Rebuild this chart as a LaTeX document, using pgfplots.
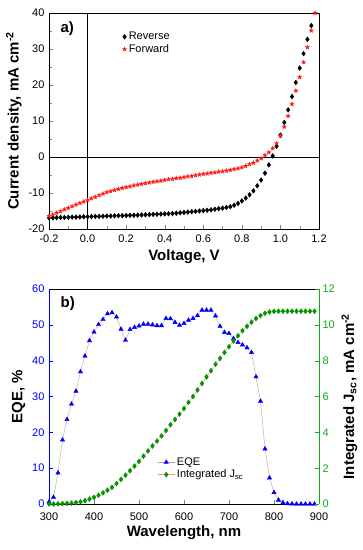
\documentclass[border=0pt]{standalone}
\usepackage{fontspec}
\setmainfont{Liberation Sans}
\usepackage{pgfplots}
\pgfplotsset{compat=1.18}
\definecolor{eqeblue}{RGB}{0,0,255}
\definecolor{jgreen}{RGB}{0,150,0}
\definecolor{axgreen}{RGB}{20,170,20}
\definecolor{fred}{RGB}{255,30,30}
\pgfdeclareplotmark{fstar}{%
  \pgfpathmoveto{\pgfpointpolar{90}{\pgfplotmarksize}}%
  \pgfpathlineto{\pgfpointpolar{126}{0.45\pgfplotmarksize}}%
  \pgfpathlineto{\pgfpointpolar{162}{\pgfplotmarksize}}%
  \pgfpathlineto{\pgfpointpolar{198}{0.45\pgfplotmarksize}}%
  \pgfpathlineto{\pgfpointpolar{234}{\pgfplotmarksize}}%
  \pgfpathlineto{\pgfpointpolar{270}{0.45\pgfplotmarksize}}%
  \pgfpathlineto{\pgfpointpolar{306}{\pgfplotmarksize}}%
  \pgfpathlineto{\pgfpointpolar{342}{0.45\pgfplotmarksize}}%
  \pgfpathlineto{\pgfpointpolar{18}{\pgfplotmarksize}}%
  \pgfpathlineto{\pgfpointpolar{54}{0.45\pgfplotmarksize}}%
  \pgfpathclose
  \pgfusepathqfillstroke}
\newcommand{\lblfont}{\bfseries\fontsize{15}{17}\selectfont}
\pgfplotsset{
  mystyle/.style={
    scale only axis, width=270pt, anchor=south west,
    tick align=inside,
    /pgf/number format/assume math mode=true,
    ticklabel style={font=\fontsize{11}{13}\selectfont},
    xticklabel style={yshift=-2pt},
    yticklabel style={xshift=-1pt},
    xlabel style={font=\lblfont},
    ylabel style={font=\lblfont},
    legend cell align=left,
  }
}
\begin{document}
\begin{tikzpicture}[x=1pt,y=1pt]
\path (0,0) rectangle (363,550);
% ---------------- (a) ----------------
\begin{axis}[mystyle, at={(49pt,321pt)}, height=216pt,
  xmin=-0.2, xmax=1.2, ymin=-20, ymax=40,
  xtick={-0.2,0,0.2,0.4,0.6,0.8,1.0,1.2}, minor x tick num=1,
  ytick={-20,-10,0,10,20,30,40}, minor y tick num=1,
  tick pos=left,
  xticklabel style={/pgf/number format/.cd, fixed, fixed zerofill, precision=1},
  xlabel={Voltage, V},
  ylabel={Current density, mA cm\textsuperscript{-2}},
  legend style={draw=none, fill=none, at={(0.26,0.93)}, anchor=north west,
    font=\fontsize{11}{13}\selectfont, row sep=-1pt},
]
\addplot[black, thin, forget plot] coordinates {(0,-20) (0,40)};
\addplot[black, thin, forget plot] coordinates {(-0.2,0) (1.2,0)};
\addplot[only marks, mark=diamond*, mark size=2.4pt, black] table[row sep=\\] {
x y\\
-0.20 -16.9\\ -0.18 -16.9\\ -0.16 -16.85\\ -0.14 -16.8\\ -0.12 -16.8\\
-0.10 -16.75\\ -0.08 -16.7\\ -0.06 -16.7\\ -0.04 -16.65\\ -0.02 -16.6\\
0.00 -16.6\\ 0.02 -16.55\\ 0.04 -16.5\\ 0.06 -16.5\\ 0.08 -16.45\\
0.10 -16.4\\ 0.12 -16.4\\ 0.14 -16.35\\ 0.16 -16.3\\ 0.18 -16.3\\
0.20 -16.25\\ 0.22 -16.2\\ 0.24 -16.2\\ 0.26 -16.15\\ 0.28 -16.1\\
0.30 -16.05\\ 0.32 -16.0\\ 0.34 -15.95\\ 0.36 -15.9\\ 0.38 -15.85\\
0.40 -15.8\\ 0.42 -15.75\\ 0.44 -15.7\\ 0.46 -15.6\\ 0.48 -15.5\\
0.50 -15.4\\ 0.52 -15.3\\ 0.54 -15.2\\ 0.56 -15.1\\ 0.58 -15.0\\
0.60 -14.9\\ 0.62 -14.8\\ 0.64 -14.65\\ 0.66 -14.5\\ 0.68 -14.35\\
0.70 -14.2\\ 0.72 -14.0\\ 0.74 -13.8\\ 0.76 -13.4\\ 0.78 -12.9\\
0.80 -12.2\\ 0.82 -11.4\\ 0.84 -10.5\\ 0.86 -9.4\\ 0.88 -8.0\\
0.90 -6.4\\ 0.92 -4.5\\ 0.94 -2.2\\ 0.96 0.3\\ 0.98 3.0\\
1.00 6.1\\ 1.02 9.6\\ 1.04 13.1\\ 1.06 16.8\\ 1.08 20.7\\
1.10 24.7\\ 1.12 28.7\\ 1.14 32.7\\ 1.16 36.5\\
};
\addlegendentry{Reverse}
\addplot[only marks, mark=fstar, mark size=2.3pt, fred, mark options={fill=fred, draw=fred, line width=0.2pt}] table[row sep=\\] {
x y\\
-0.20 -16.4\\ -0.18 -15.95\\ -0.16 -15.5\\ -0.14 -15.05\\ -0.12 -14.6\\
-0.10 -14.15\\ -0.08 -13.7\\ -0.06 -13.25\\ -0.04 -12.8\\ -0.02 -12.4\\
0.00 -12.0\\ 0.02 -11.5\\ 0.04 -11.1\\ 0.06 -10.6\\ 0.08 -10.2\\
0.10 -9.8\\ 0.12 -9.5\\ 0.14 -9.2\\ 0.16 -8.9\\ 0.18 -8.6\\
0.20 -8.4\\ 0.22 -8.2\\ 0.24 -7.9\\ 0.26 -7.7\\ 0.28 -7.5\\
0.30 -7.3\\ 0.32 -7.1\\ 0.34 -6.9\\ 0.36 -6.8\\ 0.38 -6.6\\
0.40 -6.4\\ 0.42 -6.2\\ 0.44 -6.1\\ 0.46 -5.9\\ 0.48 -5.8\\
0.50 -5.6\\ 0.52 -5.4\\ 0.54 -5.3\\ 0.56 -5.1\\ 0.58 -4.9\\
0.60 -4.7\\ 0.62 -4.6\\ 0.64 -4.4\\ 0.66 -4.3\\ 0.68 -4.1\\
0.70 -4.0\\ 0.72 -3.8\\ 0.74 -3.6\\ 0.76 -3.4\\ 0.78 -3.2\\
0.80 -2.9\\ 0.82 -2.5\\ 0.84 -2.0\\ 0.86 -1.6\\ 0.88 -1.0\\
0.90 -0.4\\ 0.92 0.5\\ 0.94 1.3\\ 0.96 2.4\\ 0.98 3.8\\
1.00 5.9\\ 1.02 8.4\\ 1.04 11.4\\ 1.06 14.7\\ 1.08 18.4\\
1.10 22.2\\ 1.12 26.3\\ 1.14 30.5\\ 1.16 35.1\\ 1.18 40.0\\
};
\addlegendentry{Forward}
\node[anchor=west, font=\lblfont] at (rel axis cs:0.03,0.93) {a)};
\end{axis}
% ---------------- (b) ----------------
\begin{axis}[mystyle, at={(49pt,46pt)}, height=215pt,
  xmin=300, xmax=900, ymin=0, ymax=60,
  xtick={300,400,...,900}, ytick={0,10,...,60},
  axis x line=box, axis y line*=left,
  xtick pos=left, tick align=inside,
  y axis line style={eqeblue},
  ytick style={eqeblue},
  yticklabel style={eqeblue},
  xticklabel style={yshift=-3pt},
  xlabel={Wavelength, nm},
  ylabel={EQE, \%},
  xlabel style={font=\lblfont, yshift=2pt},
  ylabel style={font=\lblfont},
]
\addplot[gray!70, thin, mark=triangle*, mark size=2.5pt, mark options={eqeblue, draw=eqeblue}] table[row sep=\\] {
x y\\
300 0.6\\ 310 1.9\\ 320 8.7\\ 330 17.9\\ 340 23.6\\ 350 27.9\\ 360 31.5\\ 370 36.9\\
380 41.3\\ 390 45.6\\ 400 48.0\\ 410 50.1\\ 420 51.5\\ 430 53.1\\ 440 53.4\\ 450 52.2\\
460 48.8\\ 470 45.7\\ 480 48.7\\ 490 49.3\\ 500 49.7\\ 510 50.2\\ 520 50.2\\ 530 50.0\\
540 49.8\\ 550 49.8\\ 560 51.8\\ 570 51.7\\ 580 50.7\\ 590 49.9\\ 600 50.4\\ 610 51.3\\
620 51.8\\ 630 52.6\\ 640 54.1\\ 650 54.1\\ 660 54.1\\ 670 52.5\\ 680 49.6\\ 690 47.9\\
700 47.6\\ 710 46.2\\ 720 45.1\\ 730 44.4\\ 740 43.6\\ 750 42.3\\ 760 35.5\\ 770 28.7\\
780 15.4\\ 790 7.3\\ 800 3.2\\ 810 1.1\\ 820 0.4\\ 830 0.1\\ 840 0.05\\ 850 0\\
860 0\\ 870 0\\ 880 0\\ 890 0\\
};
\node[anchor=west, font=\lblfont] at (rel axis cs:0.03,0.93) {b)};
\end{axis}
\begin{axis}[mystyle, at={(49pt,46pt)}, height=215pt,
  xmin=300, xmax=900, ymin=0, ymax=12,
  axis y line*=right, axis x line=none,
  ytick={0,2,...,12}, tick align=inside,
  y axis line style={axgreen},
  ytick style={axgreen},
  yticklabel style={axgreen, xshift=1pt},
  ylabel={Integrated J\textsubscript{sc}, mA cm\textsuperscript{-2}},
  ylabel style={font=\lblfont},
  legend style={draw=none, fill=none, at={(0.39,0.235)}, anchor=north west,
    font=\fontsize{11}{13}\selectfont, row sep=-1pt},
]
\addlegendimage{gray!70, thin, mark=triangle*, mark size=2.5pt, mark options={eqeblue, draw=eqeblue}}
\addlegendentry{EQE}
\addplot[red!45, thin, mark=diamond*, mark size=2.5pt, mark options={jgreen, draw=jgreen}] table[row sep=\\] {
x y\\
300 0.0\\ 310 0.0\\ 320 0.01\\ 330 0.02\\ 340 0.03\\ 350 0.05\\ 360 0.08\\ 370 0.12\\
380 0.19\\ 390 0.27\\ 400 0.37\\ 410 0.49\\ 420 0.62\\ 430 0.77\\ 440 0.93\\ 450 1.14\\
460 1.37\\ 470 1.61\\ 480 1.86\\ 490 2.12\\ 500 2.38\\ 510 2.67\\ 520 2.96\\ 530 3.24\\
540 3.51\\ 550 3.80\\ 560 4.10\\ 570 4.42\\ 580 4.72\\ 590 5.01\\ 600 5.33\\ 610 5.67\\
620 6.00\\ 630 6.36\\ 640 6.73\\ 650 7.09\\ 660 7.44\\ 670 7.80\\ 680 8.13\\ 690 8.46\\
700 8.78\\ 710 9.10\\ 720 9.39\\ 730 9.67\\ 740 9.92\\ 750 10.15\\ 760 10.35\\ 770 10.52\\
780 10.65\\ 790 10.72\\ 800 10.75\\ 810 10.76\\ 820 10.76\\ 830 10.76\\ 840 10.76\\ 850 10.76\\
860 10.76\\ 870 10.76\\ 880 10.76\\ 890 10.76\\
};
\addlegendentry{Integrated J\textsubscript{sc}}
\end{axis}
\end{tikzpicture}
\end{document}
